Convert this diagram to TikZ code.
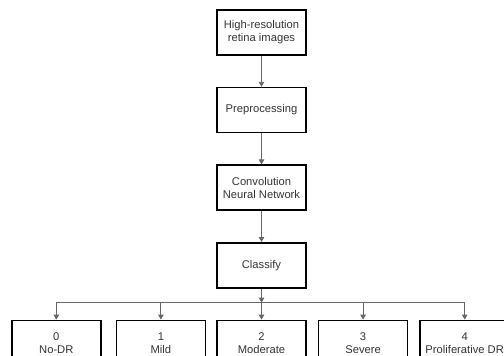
\documentclass[tikz,border=0pt]{standalone}
\usepackage{fontspec}
\setmainfont{Liberation Sans}
\usepackage{tikz}
\usetikzlibrary{arrows.meta,positioning}

\begin{document}
\begin{tikzpicture}[
  node distance=31pt,
  blk/.style={draw,line width=1.6pt,minimum width=89pt,minimum height=45pt,align=center,
    text=black!80,font=\fontsize{11.2pt}{13pt}\selectfont,inner sep=2pt},
  cls/.style={blk},
  ar/.style={-{Triangle[length=5pt,width=5.5pt]},draw=black!60,line width=0.9pt},
  ln/.style={draw=black!60,line width=0.9pt}
]
\useasboundingbox (0,0) rectangle (504pt,-356pt);
\node[blk] (hr) at (261.5pt,-32.5pt) {High-resolution\\retina images};
\node[blk,below=of hr] (pre) {Preprocessing};
\node[blk,below=of pre] (cnn) {Convolution\\Neural Network};
\node[blk,below=of cnn] (clf) {Classify};
% classes
\node[cls,below=of clf] (c2) {2\\Moderate};
\node[cls,left=10pt of c2] (c1) {1\\Mild};
\node[cls,left=14pt of c1] (c0) {0\\No-DR};
\node[cls,right=11pt of c2] (c3) {3\\Severe};
\node[cls,right=11pt of c3] (c4) {4\\Proliferative DR};
\draw[ar] (hr) -- (pre);
\draw[ar] (pre) -- (cnn);
\draw[ar] (cnn) -- (clf);
\coordinate[below=14pt of clf.south] (bus);
\draw[ar] (clf) -- (bus);
\draw[ln] (c0.north |- bus) -- (c4.north |- bus);
\foreach \c in {c0,c1,c2,c3,c4}
  \draw[ar] (\c.north |- bus) -- (\c);
\end{tikzpicture}
\end{document}
